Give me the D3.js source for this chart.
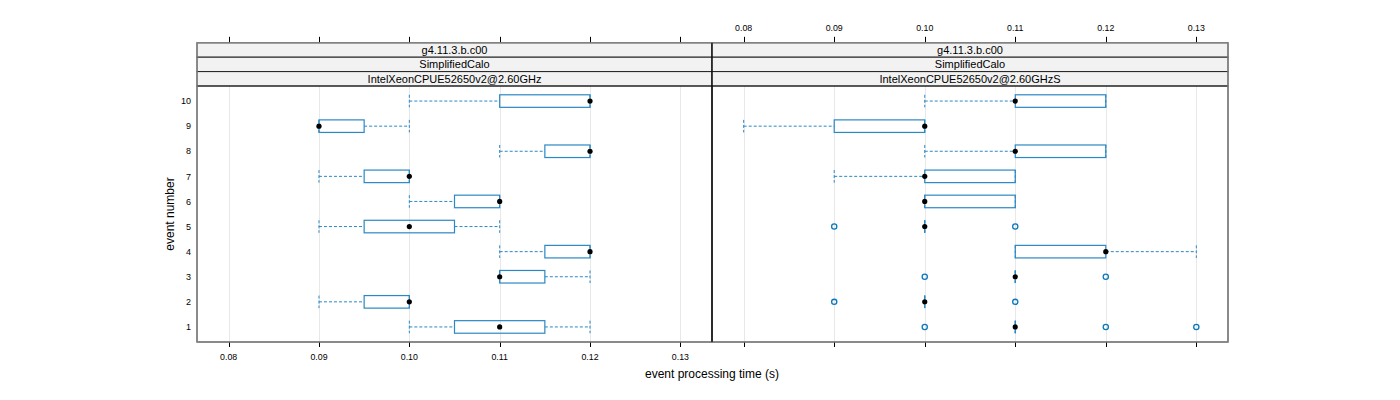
<!DOCTYPE html>
<html>
<head>
<meta charset="utf-8">
<script src="https://cdn.jsdelivr.net/npm/d3@7"></script>
<style>
  body { margin: 0; background: #fff; }
  svg text { font-family: "Liberation Sans", Arial, sans-serif; fill: #000; }
</style>
</head>
<body>
<svg id="chart" width="1400" height="400"></svg>
<script>
// ---- data ----
const events = [1, 2, 3, 4, 5, 6, 7, 8, 9, 10];
const xTicks = [0.08, 0.09, 0.10, 0.11, 0.12, 0.13];
const stripLabels1 = ["g4.11.3.b.c00", "g4.11.3.b.c00"];
const stripLabels2 = ["SimplifiedCalo", "SimplifiedCalo"];
const stripLabels3 = ["IntelXeonCPUE52650v2@2.60GHz", "IntelXeonCPUE52650v2@2.60GHzS"];
// [lower whisker, Q1, median, Q3, upper whisker] per event 1..10
const leftStats = [
  [0.10, 0.105, 0.11, 0.115, 0.12],
  [0.09, 0.095, 0.10, 0.10, 0.10],
  [0.11, 0.11, 0.11, 0.115, 0.12],
  [0.11, 0.115, 0.12, 0.12, 0.12],
  [0.09, 0.095, 0.10, 0.105, 0.11],
  [0.10, 0.105, 0.11, 0.11, 0.11],
  [0.09, 0.095, 0.10, 0.10, 0.10],
  [0.11, 0.115, 0.12, 0.12, 0.12],
  [0.09, 0.09, 0.09, 0.095, 0.10],
  [0.10, 0.11, 0.12, 0.12, 0.12]
];
const leftOutliers = [[], [], [], [], [], [], [], [], [], []];
const rightStats = [
  [0.11, 0.11, 0.11, 0.11, 0.11],
  [0.10, 0.10, 0.10, 0.10, 0.10],
  [0.11, 0.11, 0.11, 0.11, 0.11],
  [0.11, 0.11, 0.12, 0.12, 0.13],
  [0.10, 0.10, 0.10, 0.10, 0.10],
  [0.10, 0.10, 0.10, 0.11, 0.11],
  [0.09, 0.10, 0.10, 0.11, 0.11],
  [0.10, 0.11, 0.11, 0.12, 0.12],
  [0.08, 0.09, 0.10, 0.10, 0.10],
  [0.10, 0.11, 0.11, 0.12, 0.12]
];
const rightOutliers = [
  [0.10, 0.12, 0.13],
  [0.09, 0.11],
  [0.10, 0.12],
  [],
  [0.09, 0.11],
  [], [], [], [], []
];
const xTitle = "event processing time (s)";
const yTitle = "event number";

// ---- layout ----
const svg = d3.select("#chart");
const panelTop = 86, panelBottom = 342;
const panels = [
  { x0: 197, x1: 712, stats: leftStats, outliers: leftOutliers, strip: 0, bottomLabels: true, topLabels: false },
  { x0: 712, x1: 1228, stats: rightStats, outliers: rightOutliers, strip: 1, bottomLabels: false, topLabels: true }
];
const stripH = 14.4;
const stripTop = panelTop - 3 * stripH;
const boxCol = "#2b88c4";
const outCol = "#0a78be";
const y = d3.scaleLinear().domain([0.4, 10.6]).range([panelBottom, panelTop]);
const boxHalf = (y(0) - y(0.25));

panels.forEach(p => {
  const x = d3.scaleLinear().domain([0.0765, 0.1335]).range([p.x0, p.x1]);
  const g = svg.append("g");
  // reference lines
  g.selectAll("line.grid").data(xTicks).enter().append("line")
    .attr("x1", d => Math.round(x(d)) + 0.5).attr("x2", d => Math.round(x(d)) + 0.5)
    .attr("y1", panelTop).attr("y2", panelBottom)
    .attr("stroke", "#e8e8e8").attr("stroke-width", 1);

  // boxes
  p.stats.forEach((s, i) => {
    const ev = events[i];
    const cy = y(ev);
    const [lw, q1, med, q3, uw] = s;
    // whiskers
    g.append("line").attr("x1", x(lw)).attr("x2", x(q1)).attr("y1", cy).attr("y2", cy)
      .attr("stroke", boxCol).attr("stroke-dasharray", "3,2").attr("stroke-width", 1);
    g.append("line").attr("x1", x(q3)).attr("x2", x(uw)).attr("y1", cy).attr("y2", cy)
      .attr("stroke", boxCol).attr("stroke-dasharray", "3,2").attr("stroke-width", 1);
    [lw, uw].forEach(w => {
      g.append("line").attr("x1", x(w)).attr("x2", x(w)).attr("y1", cy - boxHalf).attr("y2", cy + boxHalf)
        .attr("stroke", boxCol).attr("stroke-dasharray", "3,2").attr("stroke-width", 1);
    });
    // box
    if (q3 > q1) {
      g.append("rect").attr("x", x(q1)).attr("y", cy - boxHalf)
        .attr("width", x(q3) - x(q1)).attr("height", 2 * boxHalf)
        .attr("fill", "none").attr("stroke", boxCol).attr("stroke-width", 1.2);
    } else {
      g.append("line").attr("x1", x(q1)).attr("x2", x(q1)).attr("y1", cy - boxHalf).attr("y2", cy + boxHalf)
        .attr("stroke", boxCol).attr("stroke-width", 1.2);
    }
    // outliers
    p.outliers[i].forEach(o => {
      g.append("circle").attr("cx", x(o)).attr("cy", cy).attr("r", 2.6)
        .attr("fill", "none").attr("stroke", outCol).attr("stroke-width", 1.3);
    });
    // median dot
    g.append("circle").attr("cx", x(med)).attr("cy", cy).attr("r", 2.6).attr("fill", "#000");
  });

  // strips
  [stripLabels1, stripLabels2, stripLabels3].forEach((labs, k) => {
    const sy = stripTop + k * stripH;
    g.append("rect").attr("x", p.x0).attr("y", sy).attr("width", p.x1 - p.x0).attr("height", stripH)
      .attr("fill", "#f2f2f2").attr("stroke", "#222").attr("stroke-width", 1);
    g.append("text").attr("x", (p.x0 + p.x1) / 2).attr("y", sy + stripH / 2 + 4)
      .attr("text-anchor", "middle").attr("font-size", "11px").text(labs[p.strip]);
  });

  // panel frame
  g.append("rect").attr("x", p.x0).attr("y", panelTop).attr("width", p.x1 - p.x0).attr("height", panelBottom - panelTop)
    .attr("fill", "none").attr("stroke", "#222").attr("stroke-width", 1);

  // bottom axis ticks
  g.selectAll("line.bt").data(xTicks).enter().append("line")
    .attr("x1", d => Math.round(x(d)) + 0.5).attr("x2", d => Math.round(x(d)) + 0.5)
    .attr("y1", panelBottom).attr("y2", panelBottom + 5)
    .attr("stroke", "#000");
  // top axis ticks
  g.selectAll("line.tt").data(xTicks).enter().append("line")
    .attr("x1", d => Math.round(x(d)) + 0.5).attr("x2", d => Math.round(x(d)) + 0.5)
    .attr("y1", stripTop).attr("y2", stripTop - 6)
    .attr("stroke", "#000");
  if (p.bottomLabels) {
    g.selectAll("text.bl").data(xTicks).enter().append("text")
      .attr("x", d => x(d)).attr("y", panelBottom + 18)
      .attr("text-anchor", "middle").attr("font-size", "8.8px")
      .text(d => d.toFixed(2));
  }
  if (p.topLabels) {
    g.selectAll("text.tl").data(xTicks).enter().append("text")
      .attr("x", d => x(d)).attr("y", stripTop - 12)
      .attr("text-anchor", "middle").attr("font-size", "8.8px")
      .text(d => d.toFixed(2));
  }
});

// outer frame overlay (grey)
svg.append("rect").attr("x", 197).attr("y", stripTop).attr("width", 1228 - 197).attr("height", panelBottom - stripTop)
  .attr("fill", "none").attr("stroke", "#888").attr("stroke-width", 1.3);
svg.append("line").attr("x1", 712).attr("x2", 712).attr("y1", stripTop).attr("y2", panelBottom)
  .attr("stroke", "#000").attr("stroke-width", 1);

// y labels
svg.selectAll("text.yl").data(events).enter().append("text")
  .attr("x", 191).attr("y", d => y(d) + 3.2)
  .attr("text-anchor", "end").attr("font-size", "9px")
  .text(d => d);

// titles
svg.append("text").attr("x", 712).attr("y", 378).attr("text-anchor", "middle")
  .attr("font-size", "12px").text(xTitle);
svg.append("text").attr("transform", `translate(174,${(panelTop + panelBottom) / 2}) rotate(-90)`)
  .attr("text-anchor", "middle").attr("font-size", "12px").text(yTitle);
</script>
</body>
</html>
